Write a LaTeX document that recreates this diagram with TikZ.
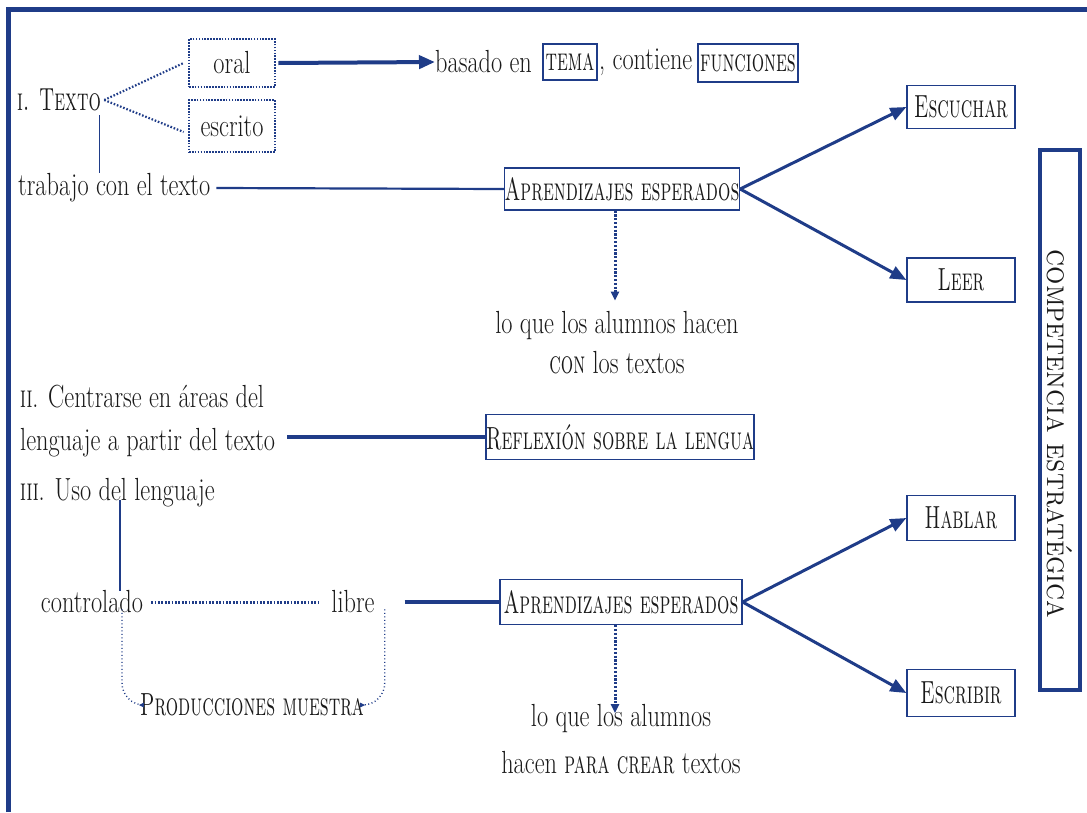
\documentclass[tikz,border=0pt]{standalone}
\usepackage{graphicx}
\usetikzlibrary{arrows.meta}
\definecolor{fblue}{HTML}{1F3C88}
\definecolor{ink}{HTML}{1A1A1A}
\newcommand{\tx}[1]{\scalebox{0.76}[1]{#1}}
\newcommand{\ssc}[1]{\scalebox{0.80}[1]{\textsc{#1}}}
\begin{document}
\begin{tikzpicture}[x=1pt,y=-1pt,
  every node/.style={font=\fontsize{32}{40}\selectfont, text=ink, inner sep=0pt},
  sbox/.style={draw=fblue, line width=1.3pt},
  dbox/.style={draw=fblue, line width=2.8pt, dash pattern=on 1.6pt off 1.3pt},
  thickline/.style={draw=fblue, line width=3.5pt},
  midline/.style={draw=fblue, line width=2.2pt},
  thinline/.style={draw=fblue, line width=1.2pt},
  bigarrow/.style={draw=fblue, line width=3pt, -{Triangle[length=16pt,width=13pt]}},
  dotarrow/.style={draw=fblue, line width=3pt, dash pattern=on 2.2pt off 1.6pt, -{Triangle[length=9pt,width=8pt]}},
  dotline/.style={draw=fblue, line width=3pt, dash pattern=on 1.8pt off 1.6pt},
  thindot/.style={draw=fblue, line width=2.2pt, dash pattern=on 1.6pt off 1.8pt},
  curvedot/.style={draw=fblue, line width=1.4pt, dash pattern=on 1pt off 2.5pt, rounded corners=22pt, -{Triangle[length=5pt,width=4.5pt]}}
]
\useasboundingbox (0,0) rectangle (1087,812);
\fill[white] (0,0) rectangle (1087,812);
% frame
\draw[fblue, line width=5pt] (8,812) -- (8,9.5) -- (1087,9.5);

% --- I. Texto
\node[anchor=west] (texto) at (17,100) {\tx{\ssc{i. Texto}}};
\node[dbox, minimum width=86pt, minimum height=48pt] (oral) at (232,63) {\tx{oral}};
\node[dbox, minimum width=86pt, minimum height=52pt] (escrito) at (232,126) {\tx{escrito}};
\node[anchor=west] (basado) at (435,62) {\tx{basado en}};
\node[sbox, minimum width=54pt, minimum height=36pt] (tema) at (570,62) {\tx{\ssc{tema}}};
\node[anchor=west] (contiene) at (599,62) {\tx{, contiene}};
\node[sbox, minimum width=100pt, minimum height=38pt] (funciones) at (748,63) {\tx{\ssc{funciones}}};

\node[anchor=west] (trabajo) at (18,188) {\tx{trabajo con el texto}};
\node[sbox, minimum width=235pt, minimum height=42pt] (apr1) at (622,189) {\tx{\ssc{Aprendizajes esperados}}};
\node[sbox, minimum width=108pt, minimum height=43pt] (escuchar) at (961,107) {\tx{\ssc{Escuchar}}};
\node[sbox, minimum width=108pt, minimum height=44pt] (leer) at (961,280) {\tx{\ssc{Leer}}};
\node (lo1) at (617,345) {\tx{\begin{tabular}{@{}c@{}}lo que los alumnos hacen\\\ssc{con} los textos\end{tabular}}};

% --- competencia
\node[draw=fblue, line width=4pt, rotate=-90, minimum width=540pt, minimum height=40pt] (comp) at (1060,420) {\hspace*{28pt}\scalebox{0.9}[1]{\textsc{competencia estratégica}}};

% --- II
\node[anchor=west] (ii1) at (20,397) {\tx{\ssc{ii}. Centrarse en áreas del}};
\node[anchor=west] (ii2) at (20,443) {\tx{lenguaje a partir del texto}};
\node[sbox, minimum width=265pt, minimum height=45pt] (refl) at (620,437) {\tx{\ssc{Reflexión sobre la lengua}}};

% --- III
\node[anchor=west] (iii) at (20,493) {\tx{\ssc{iii}. Uso del lenguaje}};
\node (controlado) at (92,602) {\tx{controlado}};
\node (libre) at (353,602) {\tx{libre}};
\node (prod) at (252,705) {\tx{\ssc{Producciones muestra}}};
\node[sbox, minimum width=242pt, minimum height=45pt] (apr2) at (621,602) {\tx{\ssc{Aprendizajes esperados}}};
\node[sbox, minimum width=108pt, minimum height=45pt] (hablar) at (961,518) {\tx{\ssc{Hablar}}};
\node[sbox, minimum width=108pt, minimum height=47pt] (escribir) at (961,693) {\tx{\ssc{Escribir}}};
\node (lo2) at (621,742) {\tx{\begin{tabular}{@{}c@{}}lo que los alumnos\\[7pt]hacen \ssc{para crear} textos\end{tabular}}};

% --- connectors
\draw[thindot] ([xshift=3pt]texto.east) -- ([xshift=-4pt]oral.west);
\draw[thindot] ([xshift=3pt]texto.east) -- ([xshift=-4pt,yshift=-6pt]escrito.west);
\draw[thinline] ([xshift=-2pt,yshift=-4pt]texto.south east) -- ([xshift=-2pt]texto.south east |- trabajo.north);
\draw[bigarrow, line width=4pt] ([xshift=2pt]oral.east) -- (basado.west);
\draw[midline] ([xshift=6pt]trabajo.east) -- (apr1.west);
\draw[bigarrow] (apr1.east) -- (escuchar.west);
\draw[bigarrow] (apr1.east) -- (leer.west);
\draw[dotarrow] ([xshift=-7pt]apr1.south) -- ([xshift=-7pt,yshift=-90pt]apr1.south);

\draw[thickline] ([xshift=12pt]ii2.east |- refl.west) -- (refl.west);

\draw[thinline] ([xshift=28pt]controlado.north) -- ([xshift=28pt,yshift=8pt]controlado.north |- iii.south);
\draw[dotline] ([xshift=8pt]controlado.east) -- ([xshift=-12pt]libre.west);
\draw[thickline] ([xshift=30pt]libre.east) -- (apr2.west);
\draw[curvedot] ([xshift=30pt,yshift=4pt]controlado.south) |- ([xshift=-1pt]prod.west);
\draw[curvedot] ([xshift=10pt,yshift=4pt]libre.south east) |- ([xshift=1pt]prod.east);
\draw[bigarrow] (apr2.east) -- (hablar.west);
\draw[bigarrow] (apr2.east) -- (escribir.west);
\draw[dotarrow] ([xshift=-6pt]apr2.south) -- ([xshift=-6pt,yshift=-88pt]apr2.south);
\end{tikzpicture}
\end{document}
